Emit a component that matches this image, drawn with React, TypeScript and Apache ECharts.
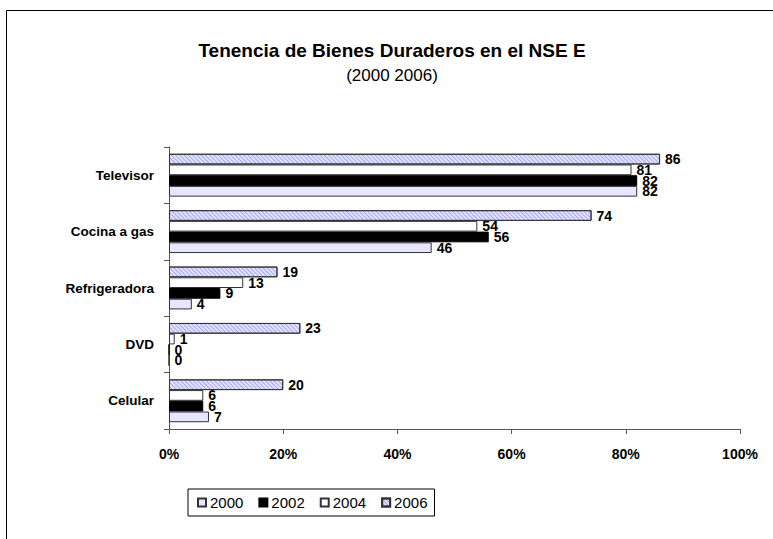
import React, { useEffect, useRef } from "react";
import * as echarts from "echarts";

const categories = ["Televisor", "Cocina a gas", "Refrigeradora", "DVD", "Celular"];
const years = ["2000", "2002", "2004", "2006"];
const values2000 = [82, 46, 4, 0, 7];
const values2002 = [82, 56, 9, 0, 6];
const values2004 = [81, 54, 13, 1, 6];
const values2006 = [86, 74, 19, 23, 20];
const xTicks = [0, 20, 40, 60, 80, 100];

const FONT = "'Liberation Sans', Arial, sans-serif";

export default function App() {
  const ref = useRef<HTMLDivElement>(null);
  useEffect(() => {
    if (!ref.current) return;
    const chart = echarts.init(ref.current, undefined, { renderer: "svg" });
    const label = {
      show: true,
      position: "right" as const,
      distance: 5,
      color: "#000",
      fontFamily: FONT,
      fontWeight: "bold" as const,
      fontSize: 14,
    };
    const styles = [
      { color: "#E6E6FF", borderColor: "#333", borderWidth: 1 },
      { color: "#000000", borderColor: "#000", borderWidth: 1 },
      { color: "#FFFFFF", borderColor: "#333", borderWidth: 1 },
      {
        color: "#E4E4FF",
        borderColor: "#333",
        borderWidth: 1,
        decal: {
          symbol: "rect",
          symbolSize: 1,
          color: "rgba(140,140,235,0.7)",
          dashArrayX: [1, 0],
          dashArrayY: [1, 1.5],
          rotation: Math.PI / 4,
        },
      },
    ];
    const dataSets = [values2000, values2002, values2004, values2006];
    // draw 2006 first so that, on the inverted axis, it sits at the top of each group
    const order = [3, 2, 1, 0];
    chart.setOption({
      animation: false,
      backgroundColor: "#fff",
      title: {
        text: "Tenencia de Bienes Duraderos en el NSE E",
        subtext: "(2000 2006)",
        left: 387,
        textAlign: "center",
        top: 36,
        itemGap: 7,
        textStyle: { fontFamily: FONT, fontWeight: "bold", fontSize: 19, color: "#000" },
        subtextStyle: { fontFamily: FONT, fontWeight: "normal", fontSize: 17, color: "#000" },
      },
      graphic: [
        {
          type: "rect",
          shape: { x: 6.5, y: 10.5, width: 900, height: 700 },
          style: { fill: "none", stroke: "#000", lineWidth: 1 },
          silent: true,
          z: 100,
        },
      ],
      legend: {
        data: years,
        left: 188,
        top: 489,
        orient: "horizontal",
        itemWidth: 8,
        itemHeight: 8,
        itemGap: 15,
        padding: [6, 7, 6, 9],
        borderColor: "#000",
        borderWidth: 1,
        icon: "rect",
        textStyle: { fontFamily: FONT, fontSize: 15, color: "#000", padding: [0, 0, 0, -1] },
      },
      grid: { left: 169, right: 33, top: 147, bottom: 110, containLabel: false },
      xAxis: {
        type: "value",
        min: xTicks[0],
        max: xTicks[xTicks.length - 1],
        interval: 20,
        axisLine: { show: true, lineStyle: { color: "#555", width: 1 } },
        axisTick: { show: true, length: 5, lineStyle: { color: "#555" } },
        splitLine: { show: false },
        axisLabel: {
          formatter: "{value}%",
          fontFamily: FONT,
          fontWeight: "bold",
          fontSize: 14,
          color: "#000",
          margin: 18,
        },
      },
      yAxis: {
        type: "category",
        inverse: true,
        data: categories,
        axisLine: { show: true, lineStyle: { color: "#555", width: 1 } },
        axisTick: { show: true, length: 5, lineStyle: { color: "#555" } },
        axisLabel: {
          fontFamily: FONT,
          fontWeight: "bold",
          fontSize: 13.5,
          color: "#000",
          margin: 15,
        },
      },
      series: order.map((i) => ({
        name: years[i],
        type: "bar",
        data: dataSets[i],
        barGap: "0%",
        barCategoryGap: "24%",
        itemStyle: styles[i],
        label,
      })),
    });
    return () => chart.dispose();
  }, []);
  return (
    <div
      ref={ref}
      style={{ position: "fixed", left: 0, top: 0, width: 773, height: 539 }}
    />
  );
}
